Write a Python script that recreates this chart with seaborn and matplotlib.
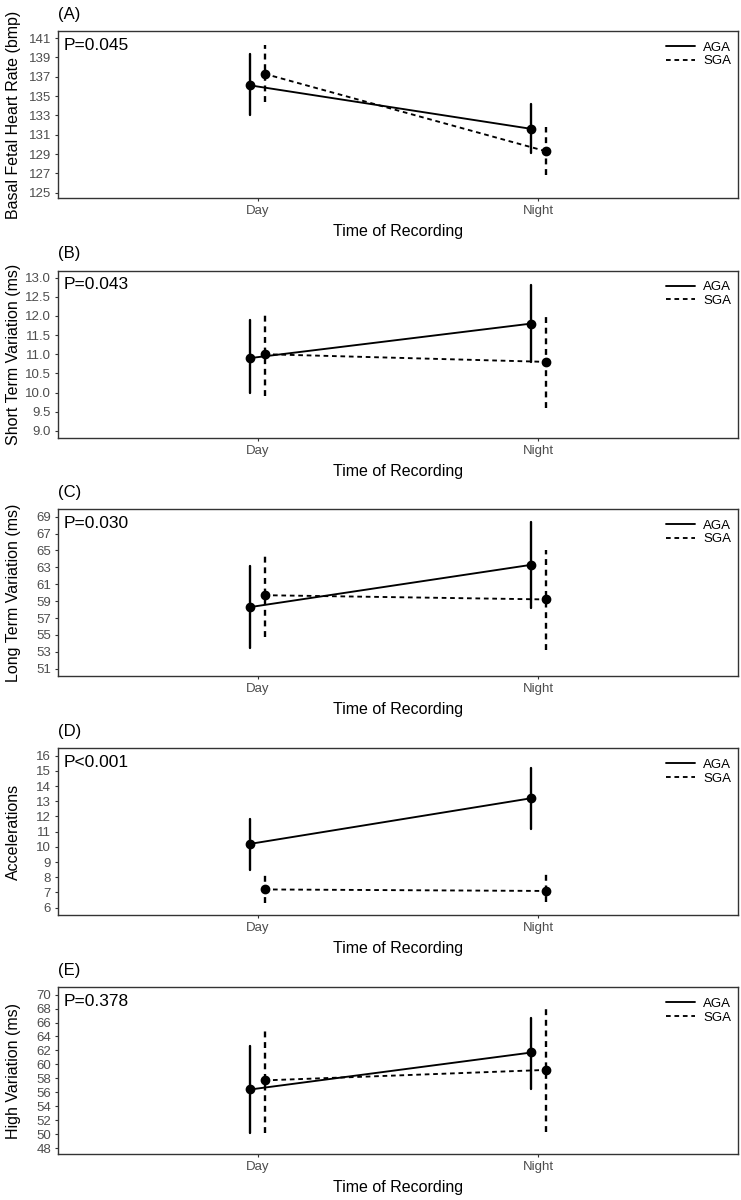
import matplotlib
matplotlib.use("Agg")
import matplotlib.pyplot as plt
from matplotlib.lines import Line2D
from matplotlib.ticker import FormatStrFormatter
import seaborn as sns
import pandas as pd
import numpy as np

times = ["Day", "Night"]
groups = ["AGA", "SGA"]

# per group: [Day, Night], each [mean, lower, upper]
bfhr_aga = [[136.1, 133.0, 139.4], [131.6, 129.1, 134.2]]
bfhr_sga = [[137.3, 134.4, 140.3], [129.3, 126.8, 131.8]]
stv_aga = [[10.9, 10.0, 11.9], [11.8, 10.8, 12.8]]
stv_sga = [[11.0, 9.9, 12.1], [10.8, 9.6, 12.0]]
ltv_aga = [[58.3, 53.4, 63.2], [63.3, 58.2, 68.4]]
ltv_sga = [[59.7, 54.8, 64.7], [59.2, 53.2, 65.1]]
acc_aga = [[10.2, 8.5, 11.8], [13.2, 11.2, 15.2]]
acc_sga = [[7.2, 6.3, 8.15], [7.1, 6.35, 8.25]]
hv_aga = [[56.4, 50.1, 62.6], [61.7, 56.5, 66.7]]
hv_sga = [[57.7, 50.2, 65.3], [59.2, 50.3, 68.1]]

panel_tags = ["(A)", "(B)", "(C)", "(D)", "(E)"]
y_labels = ["Basal Fetal Heart Rate (bmp)", "Short Term Variation (ms)",
            "Long Term Variation (ms)", "Accelerations", "High Variation (ms)"]
p_values = ["P=0.045", "P=0.043", "P=0.030", "P<0.001", "P=0.378"]
y_ticks = [list(range(125, 142, 2)),
           [9.0, 9.5, 10.0, 10.5, 11.0, 11.5, 12.0, 12.5, 13.0],
           list(range(51, 70, 2)),
           list(range(6, 17)),
           list(range(48, 71, 2))]
y_limits = [(124.45, 141.73), (8.82, 13.18), (50.14, 69.9), (5.5, 16.48), (47.1, 71.05)]
tick_fmt = ["%d", "%.1f", "%d", "%d", "%d"]


def to_long(aga, sga):
    """Long table: lower, mean, upper per group/time (median + full range = mean + bar)."""
    rows = []
    for grp, vals in zip(groups, [aga, sga]):
        for t, (m, lo, hi) in zip(times, vals):
            for v in (lo, m, hi):
                rows.append({"Time": t, "Group": grp, "value": v})
    return pd.DataFrame(rows)


sns.set_theme(style="ticks", rc={"text.color": "black", "axes.labelcolor": "black"})
plt.rcParams["font.family"] = ["Liberation Sans", "DejaVu Sans"]

dash = (0, (2.5, 2))
frame = "#333333"
tick_grey = "#4D4D4D"

fig = plt.figure(figsize=(7.41, 12), dpi=100)
W, H = 741, 1200
panel_tops = [31, 270.7, 509, 748.3, 987.3]
panel_h = 167
left_px, width_px = 58, 680

datasets = [(bfhr_aga, bfhr_sga), (stv_aga, stv_sga), (ltv_aga, ltv_sga),
            (acc_aga, acc_sga), (hv_aga, hv_sga)]

for i, (aga, sga) in enumerate(datasets):
    top = panel_tops[i]
    ax = fig.add_axes([left_px / W, 1 - (top + panel_h) / H, width_px / W, panel_h / H])
    df = to_long(aga, sga)
    sns.pointplot(data=df, x="Time", y="value", hue="Group", order=times,
                  hue_order=groups, palette=["black", "black"],
                  estimator="median", errorbar=("pi", 100), dodge=True,
                  markers="o", linestyles=["-", dash], linewidth=1.35,
                  markersize=6, err_kws={"linewidth": 1.7}, legend=False, ax=ax)

    # dashed error bars for SGA (right-dodged)
    for ln in ax.lines:
        x = np.asarray(ln.get_xdata(), dtype=float)
        if len(x) == 2 and x[0] == x[1] and x[0] - round(x[0]) > 0:
            ln.set_linestyle(dash)

    ax.set_xlim(-0.71, 1.71)
    ax.set_ylim(*y_limits[i])
    ax.set_yticks(y_ticks[i])
    ax.yaxis.set_major_formatter(FormatStrFormatter(tick_fmt[i]))

    for s in ax.spines.values():
        s.set_visible(True)
        s.set_color(frame)
        s.set_linewidth(1.0)
    ax.tick_params(axis="both", length=2.5, width=0.8, color=frame,
                   labelsize=9.5, labelcolor=tick_grey, pad=2.5)

    ax.set_xlabel("Time of Recording", fontsize=11.5, color="black")
    ax.set_ylabel(y_labels[i], fontsize=11.5, color="black")
    ax.xaxis.set_label_coords(0.5, -0.155)
    ax.yaxis.set_label_coords(-0.055, 0.5)

    ax.text(0.0, 1.1, panel_tags[i], transform=ax.transAxes, ha="left",
            va="center", fontsize=12, color="black")
    ax.text(0.008, 0.916, p_values[i], transform=ax.transAxes, ha="left",
            va="center", fontsize=12.5, color="black")

    handles = [Line2D([], [], color="black", lw=1.35, ls="-"),
               Line2D([], [], color="black", lw=1.35, ls=dash)]
    leg = ax.legend(handles, groups, loc="upper right", bbox_to_anchor=(0.99, 0.937),
                    frameon=False, fontsize=9.5, handlelength=2.2, handletextpad=0.6,
                    labelspacing=0.1, borderpad=0, borderaxespad=0)
    for t in leg.get_texts():
        t.set_color("black")

fig.savefig("out.png", dpi=100)
